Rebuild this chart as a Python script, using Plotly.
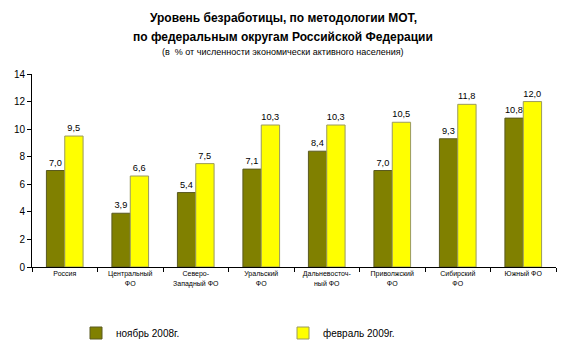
import plotly.graph_objects as go

categories = ["Россия", "Центральный<br>ФО", "Северо-<br>Западный ФО", "Уральский<br>ФО",
              "Дальневосточ-<br>ный ФО", "Приволжский<br>ФО", "Сибирский<br>ФО", "Южный ФО"]
nov2008 = [7.0, 3.9, 5.4, 7.1, 8.4, 7.0, 9.3, 10.8]
feb2009 = [9.5, 6.6, 7.5, 10.3, 10.3, 10.5, 11.8, 12.0]
y_ticks = [0, 2, 4, 6, 8, 10, 12, 14]

FONT = "Arial, Liberation Sans, sans-serif"
OFF = 8  # page body margin
# plot area in screen pixels
X0, X1, Y0, Y1 = 32, 556, 74, 267
W, H = 584 - OFF, 360 - OFF
L, T = X0 - OFF, Y0 - OFF
R, B = W - (X1 - OFF), H - (Y1 - OFF)
PW, PH = X1 - X0, Y1 - Y0

def px_x(x):
    return (x - X0) / PW

def px_y(y):
    return (Y1 - y) / PH

def fmt(v):
    return f"{v:.1f}".replace(".", ",")

fig = go.Figure()
fig.add_bar(x=categories, y=nov2008, name="ноябрь 2008г.", legend="legend",
            marker=dict(color="#808000", line=dict(color="#5a5a20", width=1)),
            text=[fmt(v) for v in nov2008], textposition="outside",
            textfont=dict(size=10, color="black", family=FONT), cliponaxis=False)
fig.add_bar(x=categories, y=feb2009, name="февраль 2009г.", legend="legend2",
            marker=dict(color="#FFFF00", line=dict(color="#9a9a60", width=1)),
            text=[fmt(v) for v in feb2009], textposition="outside",
            textfont=dict(size=10, color="black", family=FONT), cliponaxis=False)

def leg(xpx):
    return dict(x=px_x(xpx), y=px_y(333), xanchor="left", yanchor="middle",
                xref="paper", yref="paper", font=dict(size=10, family=FONT),
                itemwidth=30, bgcolor="rgba(0,0,0,0)", tracegroupgap=0)

fig.update_layout(
    width=W, height=H,
    margin=dict(l=L, r=R, t=T, b=B, autoexpand=False),
    paper_bgcolor="white", plot_bgcolor="white",
    font=dict(family=FONT, color="black"),
    barmode="group", bargap=0.44, bargroupgap=0,
    showlegend=True,
    legend=leg(76), legend2=leg(283),
    uniformtext=dict(minsize=8, mode="show"),
)
fig.update_xaxes(showline=True, linecolor="black", linewidth=1,
                 ticks="outside", tickson="boundaries", ticklen=4, tickcolor="black",
                 tickfont=dict(size=7, family=FONT), tickangle=0, showgrid=False)
fig.update_yaxes(range=[0, 14], tickvals=y_ticks, showline=True, linecolor="black", linewidth=1,
                 ticks="outside", ticklen=4, tickcolor="black", showgrid=False,
                 tickfont=dict(size=10, family=FONT), zeroline=False)

titles = [
    ("<b>Уровень безработицы, по методологии МОТ,</b>", 18, 12),
    ("<b>по федеральным округам Российской Федерации</b>", 37, 12),
    ("(в  % от численности экономически активного населения)", 52, 9),
]
for txt, ypx, sz in titles:
    fig.add_annotation(text=txt, x=px_x(283), y=px_y(ypx),
                       xref="paper", yref="paper", showarrow=False,
                       font=dict(size=sz, family=FONT), yanchor="middle", xanchor="center")

fig.write_html("out.html")
